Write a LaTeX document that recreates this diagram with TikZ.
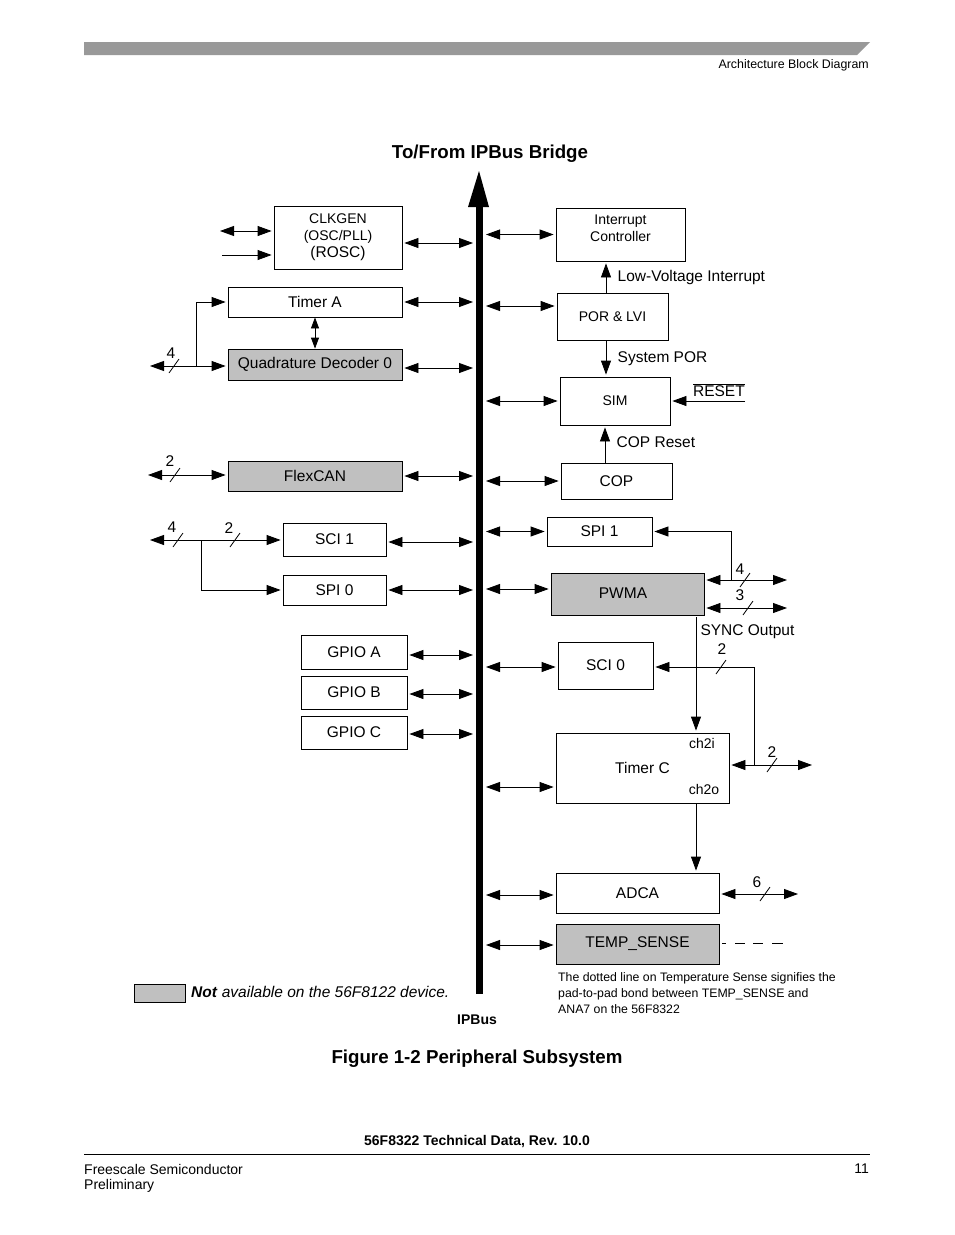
\documentclass[tikz,border=0pt]{standalone}
\usepackage{fontspec}
\setmainfont{Liberation Sans}
\usetikzlibrary{arrows.meta}
\definecolor{nagray}{RGB}{192,192,192}
\definecolor{bargray}{RGB}{153,153,153}
\newcommand\fmain{\fontsize{15.5}{17}\selectfont}
\newcommand\fsmall{\fontsize{14}{17}\selectfont}
\newcommand\fnote{\fontsize{12.3}{16}\selectfont}
\newcommand\fhead{\fontsize{12.4}{15}\selectfont}
\newcommand\ftitle{\fontsize{18.7}{22}\selectfont\bfseries}
\begin{document}
\begin{tikzpicture}[x=1pt,y=-1pt,font=\fmain,
  blk/.style={draw,line width=0.8pt,inner sep=0pt},
  nablk/.style={blk,fill=nagray},
  bidir/.style={{Triangle[length=14pt,width=10pt]}-{Triangle[length=14pt,width=10pt]},line width=0.8pt,shorten <=2pt,shorten >=2pt},
  shortbidir/.style={{Triangle[length=11pt,width=8pt]}-{Triangle[length=11pt,width=8pt]},line width=0.8pt},
  uni/.style={-{Triangle[length=14pt,width=10pt]},line width=0.8pt,shorten >=2pt},
  bw/.pic={\draw[line width=0.8pt] (-5,7) -- (5,-7);}]
\useasboundingbox (0,0) rectangle (954,1235);

% page head
\fill[bargray] (84,42) -- (870,42) -- (857,55) -- (84,55) -- cycle;
\node[anchor=east,inner sep=0pt,font=\fhead] (head) at (869,65) {Architecture Block Diagram};

% IPBus
\node[font=\ftitle] (title) at (490,154) {To/From IPBus Bridge};
\fill (476,205) rectangle (483,994);
\fill (479,171) -- (489,207) -- (468,207) -- cycle;
\node[font=\fsmall\bfseries] (ipbus) at (477,1020) {IPBus};
\coordinate (busL) at (475,0);
\coordinate (busR) at (484,0);

% left blocks
\node[blk,minimum width=128pt,minimum height=63pt,align=center,font=\fsmall] (clk) at (338,237.5) {CLKGEN\\(OSC/PLL)\\{\fmain (ROSC)}};
\node[blk,minimum width=174pt,minimum height=30pt] (tima) at (315,302) {Timer A};
\node[nablk,minimum width=174pt,minimum height=31pt] (qd) at (315,364.5) {Quadrature Decoder 0};
\node[nablk,minimum width=174pt,minimum height=30pt] (can) at (315,476) {FlexCAN};
\node[blk,minimum width=103pt,minimum height=33pt] (sci1) at (334.5,539.5) {SCI 1};
\node[blk,minimum width=103pt,minimum height=30pt] (spi0) at (334.5,590) {SPI 0};
\node[blk,minimum width=106pt,minimum height=34pt] (gpa) at (354,652) {GPIO A};
\node[blk,minimum width=106pt,minimum height=33pt] (gpb) at (354,692.5) {GPIO B};
\node[blk,minimum width=106pt,minimum height=33pt] (gpc) at (354,732.5) {GPIO C};

\draw[bidir] ([yshift=-5.5pt]clk.east) -- ([yshift=-5.5pt]clk.east -| busL);
\draw[bidir] (tima.east) -- (tima.east -| busL);
\draw[bidir] ([yshift=-3.5pt]qd.east) -- ([yshift=-3.5pt]qd.east -| busL);
\draw[bidir] (can.east) -- (can.east -| busL);
\draw[bidir] ([yshift=-2.5pt]sci1.east) -- ([yshift=-2.5pt]sci1.east -| busL);
\draw[bidir] (spi0.east) -- (spi0.east -| busL);
\draw[bidir] ([yshift=-3pt]gpa.east) -- ([yshift=-3pt]gpa.east -| busL);
\draw[bidir] ([yshift=-1.5pt]gpb.east) -- ([yshift=-1.5pt]gpb.east -| busL);
\draw[bidir] ([yshift=-1.5pt]gpc.east) -- ([yshift=-1.5pt]gpc.east -| busL);

% pins on the left
\coordinate (clkio) at (218,231);
\coordinate (clkin) at (222,255);
\draw[bidir] (clkio) -- (clkio -| clk.west);
\draw[uni] (clkin) -- (clkin -| clk.west);
\draw[shortbidir] (tima.south) -- (qd.north);
\coordinate (qdio) at (148,366);
\coordinate (qdbr) at (196,366);
\draw[bidir] (qdio) -- (qdio -| qd.west);
\draw[uni] (qdbr) |- (tima.west);
\pic at (174,366) {bw};
\node (n4a) at (171,353) {4};
\coordinate (canio) at (146,475);
\draw[bidir] (canio) -- (canio -| can.west);
\pic at (175,475) {bw};
\node (n2a) at (170,461) {2};
\coordinate (sciio) at (148,540);
\coordinate (scibr) at (201,540);
\draw[bidir] (sciio) -- (sciio -| sci1.west);
\draw[uni] (scibr) |- (spi0.west);
\pic at (178,540) {bw};
\pic at (235,540) {bw};
\node (n4b) at (172,527) {4};
\node (n2b) at (229,528) {2};

% right blocks
\node[blk,minimum width=129pt,minimum height=53pt] (intc) at (620.5,234.5) {};
\node[align=center,font=\fsmall] (intct) at (620.5,228) {Interrupt\\Controller};
\node[blk,minimum width=111pt,minimum height=47pt,font=\fsmall] (por) at (612.5,316.5) {POR \& LVI};
\node[blk,minimum width=110pt,minimum height=48pt,font=\fsmall] (sim) at (615,401) {SIM};
\node[blk,minimum width=111pt,minimum height=36pt] (cop) at (616.5,481) {COP};
\node[blk,minimum width=105pt,minimum height=29pt] (spi1) at (599.5,531.5) {SPI 1};
\node[nablk,minimum width=153pt,minimum height=42pt] (pwm) at (627.5,594) {};
\node (pwmt) at (623,593) {PWMA};
\node[blk,minimum width=95pt,minimum height=47pt] (sci0) at (605.5,665.5) {SCI 0};
\node[blk,minimum width=173pt,minimum height=70pt] (tmc) at (642.5,768) {Timer C};
\node[blk,minimum width=163pt,minimum height=40pt] (adc) at (637.5,893) {ADCA};
\node[nablk,minimum width=163pt,minimum height=40pt] (tmp) at (637.5,944) {TEMP\_SENSE};
\node[font=\fsmall] (ch2i) at (702,743) {ch2i};
\node[font=\fsmall] (ch2o) at (704,789) {ch2o};

\draw[bidir] (intc.west -| busR) -- (intc.west);
\draw[bidir] ([yshift=10.5pt]por.west -| busR) -- ([yshift=10.5pt]por.west);
\draw[bidir] (sim.west -| busR) -- (sim.west);
\draw[bidir] (cop.west -| busR) -- (cop.west);
\draw[bidir] (spi1.west -| busR) -- (spi1.west);
\draw[bidir] ([yshift=5pt]pwm.west -| busR) -- ([yshift=5pt]pwm.west);
\draw[bidir] ([yshift=-1.5pt]sci0.west -| busR) -- ([yshift=-1.5pt]sci0.west);
\draw[bidir] ([yshift=-19pt]tmc.west -| busR) -- ([yshift=-19pt]tmc.west);
\draw[bidir] ([yshift=-2pt]adc.west -| busR) -- ([yshift=-2pt]adc.west);
\draw[bidir] ([yshift=-1pt]tmp.west -| busR) -- ([yshift=-1pt]tmp.west);

% control signals
\draw[uni] ([xshift=-6.5pt]por.north) -- ([xshift=-6.5pt]por.north |- intc.south)
  node[midway,right,xshift=8pt] {Low-Voltage Interrupt};
\draw[uni] ([xshift=-6.5pt]por.south) -- ([xshift=-6.5pt]por.south |- sim.north)
  node[midway,right,xshift=8pt] {System POR};
\draw[uni] ([xshift=-11.5pt]cop.north) -- ([xshift=-11.5pt]cop.north |- sim.south)
  node[midway,right,xshift=8pt,yshift=2pt] {COP Reset};
\coordinate (rst) at (745,401);
\draw[uni] (rst) -- (rst -| sim.east);
\node[anchor=base east,inner sep=0pt] (rstl) at (745,396) {$\overline{\mbox{RESET}}$};

% pins on the right
\coordinate (spi1j) at (731,580);
\draw[uni] (spi1j) |- (spi1.east);
\coordinate (pwmo) at (789,580);
\coordinate (pwmu) at (789,608);
\draw[bidir] (pwmo -| pwm.east) -- (pwmo);
\draw[bidir] (pwmu -| pwm.east) -- (pwmu);
\pic at (745,580) {bw};
\pic at (748,608) {bw};
\node (n4c) at (740,569) {4};
\node (n3a) at (740,595) {3};
\coordinate (sync) at (696,617);
\draw[uni] (sync) -- (sync |- tmc.north);
\node[anchor=west] (syncl) at (697,632) {SYNC Output};
\coordinate (sci0j) at (754,765);
\draw[uni] (sci0j) |- ([yshift=-1.5pt]sci0.east);
\pic at (721,667) {bw};
\node (n2c) at (722,649) {2};
\coordinate (tmco) at (814,765);
\draw[bidir] (tmco -| tmc.east) -- (tmco);
\pic at (772,765) {bw};
\node (n2d) at (772,752) {2};
\coordinate (tmcb) at (696,803);
\draw[uni] (tmcb) -- (tmcb |- adc.north);
\coordinate (adco) at (800,894);
\draw[bidir] (adco -| adc.east) -- (adco);
\pic at (765,894) {bw};
\node (n6a) at (757,882) {6};
\coordinate (tmpo) at (784,943);
\draw[line width=0.8pt,dash pattern=on 4pt off 9pt on 10pt off 8pt on 10pt off 9pt on 11pt off 20pt] ([xshift=3pt]tmpo -| tmp.east) -- (tmpo);
\node[anchor=north west,font=\fnote,align=left,inner sep=0pt] (note) at (558,972) {The dotted line on Temperature Sense signifies the\\pad-to-pad bond between TEMP\_SENSE and\\ANA7 on the 56F8322};

% legend
\draw[line width=0.8pt,fill=nagray] (134,984) rectangle (185,1002);
\node[anchor=west,inner sep=0pt] (leg) at (191,992) {\textbf{\textit{Not}} \textit{available on the 56F8122 device.}};

% caption and page foot
\node[font=\ftitle] (cap) at (477,1059) {Figure 1-2 Peripheral Subsystem};
\node[font=\fsmall\bfseries] (doc) at (477,1141) {56F8322 Technical Data, Rev. 10.0};
\draw[line width=0.8pt] (84,1154) -- (870,1154);
\node[anchor=west,inner sep=0pt,font=\fsmall] (fsl) at (84,1169) {Freescale Semiconductor};
\node[anchor=west,inner sep=0pt,font=\fsmall] (pre) at (84,1186) {Preliminary};
\node[anchor=east,inner sep=0pt,font=\fsmall] (pg) at (869,1169) {11};
\end{tikzpicture}
\end{document}
